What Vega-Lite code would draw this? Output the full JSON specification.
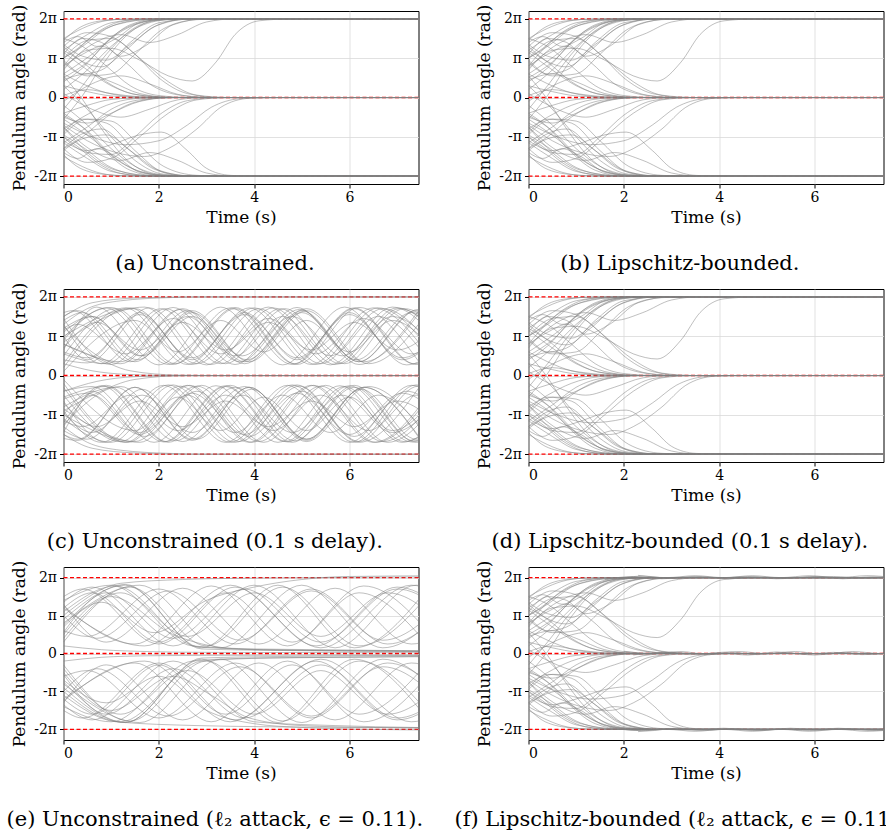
{
"$schema": "https://vega.github.io/schema/vega-lite/v6.json",
"padding": {"left": 5.5, "top": 3, "right": 0, "bottom": 0},
"config": {
 "font": "DejaVu Serif",
 "view": {"stroke": "#000000", "strokeWidth": 1},
 "axis": {"grid": true, "gridColor": "#d9d9d9", "gridWidth": 0.8, "domain": false, "ticks": true, "tickColor": "#000000", "tickSize": 4, "tickWidth": 1, "labelFont": "DejaVu Serif", "labelFontSize": 14, "labelColor": "#000000", "labelPadding": 2, "titleFont": "DejaVu Serif", "titleFontSize": 17, "titleFontWeight": "normal", "titleColor": "#000000", "titlePadding": 5},
 "axisY": {"titlePadding": 5, "labelPadding": 3},
 "title": {"font": "DejaVu Serif", "fontSize": 21, "fontWeight": "normal", "color": "#000000", "orient": "bottom", "anchor": "middle", "frame": "bounds", "offset": 28}
},
"datasets": {
 "refs": [{"y": -2}, {"y": 0}, {"y": 2}],
 "conv": [
{"s":1,"t":0,"y":1.45},{"s":1,"t":0.3,"y":1.75},{"s":1,"t":0.8,"y":1.95},{"s":1,"t":1.5,"y":2},{"s":1,"t":8,"y":2},
{"s":2,"t":0,"y":1.2},{"s":2,"t":0.5,"y":1.6},{"s":2,"t":1,"y":1.9},{"s":2,"t":1.8,"y":2},{"s":2,"t":8,"y":2},
{"s":3,"t":0,"y":1},{"s":3,"t":0.4,"y":1.3},{"s":3,"t":0.9,"y":1.75},{"s":3,"t":1.6,"y":1.97},{"s":3,"t":2.4,"y":2},{"s":3,"t":8,"y":2},
{"s":4,"t":0,"y":0.8},{"s":4,"t":0.5,"y":1.45},{"s":4,"t":1.1,"y":1.85},{"s":4,"t":2,"y":2},{"s":4,"t":8,"y":2},
{"s":5,"t":0,"y":0.6},{"s":5,"t":0.6,"y":1.1},{"s":5,"t":1.2,"y":1.7},{"s":5,"t":1.9,"y":1.97},{"s":5,"t":2.6,"y":2},{"s":5,"t":8,"y":2},
{"s":6,"t":0,"y":1.3},{"s":6,"t":0.35,"y":0.95},{"s":6,"t":0.8,"y":0.78},{"s":6,"t":1.3,"y":1.2},{"s":6,"t":1.9,"y":1.8},{"s":6,"t":2.6,"y":2},{"s":6,"t":8,"y":2},
{"s":7,"t":0,"y":0.9},{"s":7,"t":0.4,"y":0.6},{"s":7,"t":0.8,"y":0.7},{"s":7,"t":1.4,"y":1.4},{"s":7,"t":2,"y":1.9},{"s":7,"t":2.8,"y":2},{"s":7,"t":8,"y":2},
{"s":8,"t":0,"y":0.5},{"s":8,"t":0.5,"y":0.9},{"s":8,"t":1,"y":1.5},{"s":8,"t":1.5,"y":1.85},{"s":8,"t":2.2,"y":2},{"s":8,"t":8,"y":2},
{"s":9,"t":0,"y":1.1},{"s":9,"t":0.4,"y":1.5},{"s":9,"t":0.8,"y":1.4},{"s":9,"t":1.2,"y":1.05},{"s":9,"t":1.7,"y":1.3},{"s":9,"t":2.3,"y":1.85},{"s":9,"t":3,"y":2},{"s":9,"t":8,"y":2},
{"s":10,"t":0,"y":0.7},{"s":10,"t":0.5,"y":1.2},{"s":10,"t":1,"y":1.25},{"s":10,"t":1.6,"y":0.95},{"s":10,"t":2.2,"y":0.55},{"s":10,"t":2.7,"y":0.42},{"s":10,"t":3.2,"y":0.9},{"s":10,"t":3.6,"y":1.6},{"s":10,"t":4.1,"y":1.95},{"s":10,"t":4.8,"y":2},{"s":10,"t":8,"y":2},
{"s":11,"t":0,"y":-0.3},{"s":11,"t":0.4,"y":0.3},{"s":11,"t":0.9,"y":1.1},{"s":11,"t":1.4,"y":1.7},{"s":11,"t":2,"y":1.97},{"s":11,"t":2.6,"y":2},{"s":11,"t":8,"y":2},
{"s":12,"t":0,"y":0.2},{"s":12,"t":0.5,"y":0.7},{"s":12,"t":1,"y":1.3},{"s":12,"t":1.5,"y":1.75},{"s":12,"t":2.2,"y":1.98},{"s":12,"t":2.8,"y":2},{"s":12,"t":8,"y":2},
{"s":13,"t":0,"y":1.4},{"s":13,"t":0.3,"y":1.55},{"s":13,"t":0.7,"y":1.3},{"s":13,"t":1.1,"y":1.5},{"s":13,"t":1.6,"y":1.9},{"s":13,"t":2.2,"y":2},{"s":13,"t":8,"y":2},
{"s":14,"t":0,"y":1},{"s":14,"t":0.3,"y":1.25},{"s":14,"t":0.7,"y":1.65},{"s":14,"t":1.2,"y":1.93},{"s":14,"t":1.8,"y":2},{"s":14,"t":8,"y":2},
{"s":15,"t":0,"y":1.2},{"s":15,"t":0.4,"y":0.9},{"s":15,"t":0.9,"y":0.4},{"s":15,"t":1.5,"y":0.08},{"s":15,"t":2.3,"y":0},{"s":15,"t":8,"y":0},
{"s":16,"t":0,"y":0.8},{"s":16,"t":0.4,"y":1.1},{"s":16,"t":0.8,"y":1.3},{"s":16,"t":1.3,"y":0.9},{"s":16,"t":1.8,"y":0.35},{"s":16,"t":2.5,"y":0.05},{"s":16,"t":3.2,"y":0},{"s":16,"t":8,"y":0},
{"s":17,"t":0,"y":0.3},{"s":17,"t":0.5,"y":0.15},{"s":17,"t":1,"y":0.04},{"s":17,"t":1.8,"y":0},{"s":17,"t":8,"y":0},
{"s":18,"t":0,"y":-0.4},{"s":18,"t":0.5,"y":-0.2},{"s":18,"t":1,"y":-0.05},{"s":18,"t":1.8,"y":0},{"s":18,"t":8,"y":0},
{"s":19,"t":0,"y":1},{"s":19,"t":0.5,"y":1.45},{"s":19,"t":1,"y":1.5},{"s":19,"t":1.5,"y":1.1},{"s":19,"t":2,"y":0.5},{"s":19,"t":2.6,"y":0.1},{"s":19,"t":3.3,"y":0},{"s":19,"t":8,"y":0},
{"s":20,"t":0,"y":-1},{"s":20,"t":0.5,"y":-1.4},{"s":20,"t":1,"y":-1.45},{"s":20,"t":1.5,"y":-1},{"s":20,"t":2,"y":-0.45},{"s":20,"t":2.6,"y":-0.08},{"s":20,"t":3.3,"y":0},{"s":20,"t":8,"y":0},
{"s":21,"t":0,"y":-0.8},{"s":21,"t":0.4,"y":-0.5},{"s":21,"t":0.9,"y":-0.2},{"s":21,"t":1.5,"y":-0.03},{"s":21,"t":2.2,"y":0},{"s":21,"t":8,"y":0},
{"s":22,"t":0,"y":0.6},{"s":22,"t":0.4,"y":0.35},{"s":22,"t":0.9,"y":0.12},{"s":22,"t":1.6,"y":0.01},{"s":22,"t":2.3,"y":0},{"s":22,"t":8,"y":0},
{"s":23,"t":0,"y":1.5},{"s":23,"t":0.4,"y":1.3},{"s":23,"t":0.9,"y":0.8},{"s":23,"t":1.4,"y":0.3},{"s":23,"t":2,"y":0.05},{"s":23,"t":2.7,"y":0},{"s":23,"t":8,"y":0},
{"s":24,"t":0,"y":-1.3},{"s":24,"t":0.4,"y":-1},{"s":24,"t":0.9,"y":-0.5},{"s":24,"t":1.5,"y":-0.12},{"s":24,"t":2.2,"y":0},{"s":24,"t":8,"y":0},
{"s":25,"t":0,"y":-0.7},{"s":25,"t":0.5,"y":-1.1},{"s":25,"t":1.1,"y":-1.4},{"s":25,"t":1.7,"y":-1.5},{"s":25,"t":2.2,"y":-1.3},{"s":25,"t":2.8,"y":-0.8},{"s":25,"t":3.3,"y":-0.25},{"s":25,"t":3.9,"y":-0.02},{"s":25,"t":4.5,"y":0},{"s":25,"t":8,"y":0},
{"s":26,"t":0,"y":0.1},{"s":26,"t":0.6,"y":-0.3},{"s":26,"t":1.2,"y":-0.5},{"s":26,"t":1.8,"y":-0.3},{"s":26,"t":2.4,"y":-0.06},{"s":26,"t":3,"y":0},{"s":26,"t":8,"y":0},
{"s":27,"t":0,"y":-0.1},{"s":27,"t":0.6,"y":0.35},{"s":27,"t":1.2,"y":0.55},{"s":27,"t":1.8,"y":0.35},{"s":27,"t":2.4,"y":0.08},{"s":27,"t":3,"y":0},{"s":27,"t":8,"y":0},
{"s":28,"t":0,"y":-1.45},{"s":28,"t":0.35,"y":-1.8},{"s":28,"t":0.9,"y":-1.96},{"s":28,"t":1.6,"y":-2},{"s":28,"t":8,"y":-2},
{"s":29,"t":0,"y":-1.15},{"s":29,"t":0.5,"y":-1.55},{"s":29,"t":1,"y":-1.88},{"s":29,"t":1.8,"y":-2},{"s":29,"t":8,"y":-2},
{"s":30,"t":0,"y":-0.95},{"s":30,"t":0.45,"y":-1.3},{"s":30,"t":1,"y":-1.78},{"s":30,"t":1.7,"y":-1.98},{"s":30,"t":2.4,"y":-2},{"s":30,"t":8,"y":-2},
{"s":31,"t":0,"y":-0.75},{"s":31,"t":0.5,"y":-1.4},{"s":31,"t":1.1,"y":-1.85},{"s":31,"t":2,"y":-2},{"s":31,"t":8,"y":-2},
{"s":32,"t":0,"y":-0.55},{"s":32,"t":0.6,"y":-1.05},{"s":32,"t":1.2,"y":-1.65},{"s":32,"t":1.9,"y":-1.96},{"s":32,"t":2.6,"y":-2},{"s":32,"t":8,"y":-2},
{"s":33,"t":0,"y":-1.3},{"s":33,"t":0.35,"y":-0.95},{"s":33,"t":0.8,"y":-0.8},{"s":33,"t":1.3,"y":-1.25},{"s":33,"t":1.9,"y":-1.82},{"s":33,"t":2.6,"y":-2},{"s":33,"t":8,"y":-2},
{"s":34,"t":0,"y":-0.9},{"s":34,"t":0.4,"y":-0.55},{"s":34,"t":0.9,"y":-0.65},{"s":34,"t":1.5,"y":-1.35},{"s":34,"t":2.1,"y":-1.9},{"s":34,"t":2.8,"y":-2},{"s":34,"t":8,"y":-2},
{"s":35,"t":0,"y":-0.45},{"s":35,"t":0.5,"y":-0.85},{"s":35,"t":1,"y":-1.45},{"s":35,"t":1.6,"y":-1.88},{"s":35,"t":2.3,"y":-2},{"s":35,"t":8,"y":-2},
{"s":36,"t":0,"y":-1.1},{"s":36,"t":0.5,"y":-1.35},{"s":36,"t":1,"y":-1.2},{"s":36,"t":1.6,"y":-0.95},{"s":36,"t":2.05,"y":-0.88},{"s":36,"t":2.6,"y":-1.35},{"s":36,"t":3,"y":-1.8},{"s":36,"t":3.5,"y":-1.98},{"s":36,"t":4,"y":-2},{"s":36,"t":8,"y":-2},
{"s":37,"t":0,"y":0.3},{"s":37,"t":0.5,"y":-0.3},{"s":37,"t":1,"y":-1},{"s":37,"t":1.5,"y":-1.6},{"s":37,"t":2.1,"y":-1.95},{"s":37,"t":2.8,"y":-2},{"s":37,"t":8,"y":-2},
{"s":38,"t":0,"y":-0.2},{"s":38,"t":0.5,"y":-0.7},{"s":38,"t":1,"y":-1.3},{"s":38,"t":1.5,"y":-1.75},{"s":38,"t":2.2,"y":-1.98},{"s":38,"t":2.8,"y":-2},{"s":38,"t":8,"y":-2},
{"s":39,"t":0,"y":-1.4},{"s":39,"t":0.3,"y":-1.55},{"s":39,"t":0.7,"y":-1.3},{"s":39,"t":1.1,"y":-1.5},{"s":39,"t":1.6,"y":-1.9},{"s":39,"t":2.2,"y":-2},{"s":39,"t":8,"y":-2},
{"s":40,"t":0,"y":-1},{"s":40,"t":0.3,"y":-1.25},{"s":40,"t":0.7,"y":-1.65},{"s":40,"t":1.2,"y":-1.93},{"s":40,"t":1.8,"y":-2},{"s":40,"t":8,"y":-2},
{"s":41,"t":0,"y":1.35},{"s":41,"t":0.4,"y":1.05},{"s":41,"t":0.9,"y":0.95},{"s":41,"t":1.4,"y":1.35},{"s":41,"t":2,"y":1.85},{"s":41,"t":2.7,"y":2},{"s":41,"t":8,"y":2},
{"s":42,"t":0,"y":0.4},{"s":42,"t":0.4,"y":0.75},{"s":42,"t":0.9,"y":1.4},{"s":42,"t":1.4,"y":1.85},{"s":42,"t":2,"y":2},{"s":42,"t":8,"y":2},
{"s":43,"t":0,"y":-0.55},{"s":43,"t":0.4,"y":0.05},{"s":43,"t":0.8,"y":0.8},{"s":43,"t":1.3,"y":1.55},{"s":43,"t":1.9,"y":1.95},{"s":43,"t":2.5,"y":2},{"s":43,"t":8,"y":2},
{"s":44,"t":0,"y":1.15},{"s":44,"t":0.5,"y":0.7},{"s":44,"t":1,"y":0.3},{"s":44,"t":1.6,"y":0.06},{"s":44,"t":2.4,"y":0},{"s":44,"t":8,"y":0},
{"s":45,"t":0,"y":0.45},{"s":45,"t":0.5,"y":0.6},{"s":45,"t":1,"y":0.4},{"s":45,"t":1.6,"y":0.1},{"s":45,"t":2.3,"y":0},{"s":45,"t":8,"y":0},
{"s":46,"t":0,"y":-0.5},{"s":46,"t":0.5,"y":-0.65},{"s":46,"t":1,"y":-0.4},{"s":46,"t":1.6,"y":-0.1},{"s":46,"t":2.3,"y":0},{"s":46,"t":8,"y":0},
{"s":47,"t":0,"y":-1.15},{"s":47,"t":0.5,"y":-0.75},{"s":47,"t":1,"y":-0.3},{"s":47,"t":1.6,"y":-0.06},{"s":47,"t":2.4,"y":0},{"s":47,"t":8,"y":0},
{"s":48,"t":0,"y":1.3},{"s":48,"t":0.5,"y":1.65},{"s":48,"t":1,"y":1.55},{"s":48,"t":1.6,"y":1},{"s":48,"t":2.2,"y":0.4},{"s":48,"t":2.8,"y":0.06},{"s":48,"t":3.5,"y":0},{"s":48,"t":8,"y":0},
{"s":49,"t":0,"y":-1.3},{"s":49,"t":0.5,"y":-1.65},{"s":49,"t":1,"y":-1.55},{"s":49,"t":1.6,"y":-1},{"s":49,"t":2.2,"y":-0.4},{"s":49,"t":2.8,"y":-0.06},{"s":49,"t":3.5,"y":0},{"s":49,"t":8,"y":0},
{"s":50,"t":0,"y":-1.35},{"s":50,"t":0.4,"y":-1.05},{"s":50,"t":0.9,"y":-0.95},{"s":50,"t":1.4,"y":-1.35},{"s":50,"t":2,"y":-1.85},{"s":50,"t":2.7,"y":-2},{"s":50,"t":8,"y":-2},
{"s":51,"t":0,"y":-0.4},{"s":51,"t":0.4,"y":-0.75},{"s":51,"t":0.9,"y":-1.4},{"s":51,"t":1.4,"y":-1.85},{"s":51,"t":2,"y":-2},{"s":51,"t":8,"y":-2},
{"s":52,"t":0,"y":0.55},{"s":52,"t":0.4,"y":-0.05},{"s":52,"t":0.8,"y":-0.8},{"s":52,"t":1.3,"y":-1.55},{"s":52,"t":1.9,"y":-1.95},{"s":52,"t":2.5,"y":-2},{"s":52,"t":8,"y":-2},
{"s":53,"t":0,"y":0.95},{"s":53,"t":0.5,"y":0.55},{"s":53,"t":1,"y":0.6},{"s":53,"t":1.5,"y":1.1},{"s":53,"t":2.1,"y":1.75},{"s":53,"t":2.8,"y":1.98},{"s":53,"t":3.4,"y":2},{"s":53,"t":8,"y":2},
{"s":54,"t":0,"y":-0.95},{"s":54,"t":0.5,"y":-0.55},{"s":54,"t":1,"y":-0.6},{"s":54,"t":1.5,"y":-1.1},{"s":54,"t":2.1,"y":-1.75},{"s":54,"t":2.8,"y":-1.98},{"s":54,"t":3.4,"y":-2},{"s":54,"t":8,"y":-2},
{"s":55,"t":0,"y":0.75},{"s":55,"t":0.6,"y":1.35},{"s":55,"t":1.2,"y":1.6},{"s":55,"t":1.8,"y":1.4},{"s":55,"t":2.4,"y":1.6},{"s":55,"t":3,"y":1.92},{"s":55,"t":3.6,"y":2},{"s":55,"t":8,"y":2},
{"s":56,"t":0,"y":-0.75},{"s":56,"t":0.6,"y":-1.35},{"s":56,"t":1.2,"y":-1.6},{"s":56,"t":1.8,"y":-1.4},{"s":56,"t":2.4,"y":-1.6},{"s":56,"t":3,"y":-1.92},{"s":56,"t":3.6,"y":-2},{"s":56,"t":8,"y":-2},
{"s":57,"t":0,"y":0.05},{"s":57,"t":0.5,"y":0.2},{"s":57,"t":1,"y":0.1},{"s":57,"t":1.6,"y":0.02},{"s":57,"t":2.2,"y":0},{"s":57,"t":8,"y":0},
{"s":58,"t":0,"y":1.5},{"s":58,"t":0.3,"y":1.7},{"s":58,"t":0.7,"y":1.9},{"s":58,"t":1.2,"y":1.99},{"s":58,"t":1.8,"y":2},{"s":58,"t":8,"y":2},
{"s":59,"t":0,"y":-1.5},{"s":59,"t":0.3,"y":-1.7},{"s":59,"t":0.7,"y":-1.9},{"s":59,"t":1.2,"y":-1.99},{"s":59,"t":1.8,"y":-2},{"s":59,"t":8,"y":-2},
{"s":60,"t":0,"y":-0.65},{"s":60,"t":0.6,"y":-1},{"s":60,"t":1.3,"y":-1.2},{"s":60,"t":2,"y":-1.1},{"s":60,"t":2.6,"y":-0.7},{"s":60,"t":3.1,"y":-0.25},{"s":60,"t":3.7,"y":-0.03},{"s":60,"t":4.3,"y":0},{"s":60,"t":8,"y":0}
 ],
 "oscc": [
{"s":1,"t":0,"y":0.9},{"s":1,"t":0.9,"y":1.72},{"s":1,"t":2.2,"y":0.28},{"s":1,"t":3.5,"y":1.72},{"s":1,"t":4.8,"y":0.28},{"s":1,"t":6.1,"y":1.72},{"s":1,"t":7.4,"y":0.28},{"s":1,"t":8.7,"y":1.72},
{"s":2,"t":0,"y":1.2},{"s":2,"t":0.6,"y":1.5},{"s":2,"t":1.6,"y":0.5},{"s":2,"t":2.6,"y":1.5},{"s":2,"t":3.6,"y":0.5},{"s":2,"t":4.6,"y":1.5},{"s":2,"t":5.6,"y":0.5},{"s":2,"t":6.6,"y":1.5},{"s":2,"t":7.6,"y":0.5},
{"s":3,"t":0,"y":0.5},{"s":3,"t":1.1,"y":1.7},{"s":3,"t":2.35,"y":0.3},{"s":3,"t":3.6,"y":1.7},{"s":3,"t":4.85,"y":0.3},{"s":3,"t":6.1,"y":1.7},{"s":3,"t":7.35,"y":0.3},{"s":3,"t":8.6,"y":1.7},
{"s":4,"t":0,"y":1.4},{"s":4,"t":0.4,"y":1.6},{"s":4,"t":1.55,"y":0.4},{"s":4,"t":2.7,"y":1.6},{"s":4,"t":3.85,"y":0.4},{"s":4,"t":5,"y":1.6},{"s":4,"t":6.15,"y":0.4},{"s":4,"t":7.3,"y":1.6},{"s":4,"t":8.45,"y":0.4},
{"s":5,"t":0,"y":0.2},{"s":5,"t":1.4,"y":1.72},{"s":5,"t":2.7,"y":0.28},{"s":5,"t":4,"y":1.72},{"s":5,"t":5.3,"y":0.28},{"s":5,"t":6.6,"y":1.72},{"s":5,"t":7.9,"y":0.28},
{"s":6,"t":0,"y":1},{"s":6,"t":0.5,"y":0.4},{"s":6,"t":1.6,"y":1.6},{"s":6,"t":2.7,"y":0.4},{"s":6,"t":3.8,"y":1.6},{"s":6,"t":4.9,"y":0.4},{"s":6,"t":6,"y":1.6},{"s":6,"t":7.1,"y":0.4},{"s":6,"t":8.2,"y":1.6},
{"s":7,"t":0,"y":0.7},{"s":7,"t":0.7,"y":1.35},{"s":7,"t":1.6,"y":0.65},{"s":7,"t":2.5,"y":1.35},{"s":7,"t":3.4,"y":0.65},{"s":7,"t":4.3,"y":1.35},{"s":7,"t":5.2,"y":0.65},{"s":7,"t":6.1,"y":1.35},{"s":7,"t":7,"y":0.65},{"s":7,"t":7.9,"y":1.35},
{"s":8,"t":0,"y":1.3},{"s":8,"t":0.8,"y":0.3},{"s":8,"t":2.05,"y":1.7},{"s":8,"t":3.3,"y":0.3},{"s":8,"t":4.55,"y":1.7},{"s":8,"t":5.8,"y":0.3},{"s":8,"t":7.05,"y":1.7},{"s":8,"t":8.3,"y":0.3},
{"s":9,"t":0,"y":0.8},{"s":9,"t":1.2,"y":0.35},{"s":9,"t":2.45,"y":1.68},{"s":9,"t":3.7,"y":0.35},{"s":9,"t":4.95,"y":1.68},{"s":9,"t":6.2,"y":0.35},{"s":9,"t":7.45,"y":1.68},{"s":9,"t":8.7,"y":0.35},
{"s":10,"t":0,"y":1.1},{"s":10,"t":1,"y":1.73},{"s":10,"t":2.3,"y":0.28},{"s":10,"t":3.6,"y":1.73},{"s":10,"t":4.9,"y":0.28},{"s":10,"t":6.2,"y":1.73},{"s":10,"t":7.5,"y":0.28},
{"s":11,"t":0,"y":0.6},{"s":11,"t":0.5,"y":0.45},{"s":11,"t":1.6,"y":1.55},{"s":11,"t":2.7,"y":0.45},{"s":11,"t":3.8,"y":1.55},{"s":11,"t":4.9,"y":0.45},{"s":11,"t":6,"y":1.55},{"s":11,"t":7.1,"y":0.45},{"s":11,"t":8.2,"y":1.55},
{"s":12,"t":0,"y":1.5},{"s":12,"t":0.3,"y":1.65},{"s":12,"t":1.5,"y":0.35},{"s":12,"t":2.7,"y":1.65},{"s":12,"t":3.9,"y":0.35},{"s":12,"t":5.1,"y":1.65},{"s":12,"t":6.3,"y":0.35},{"s":12,"t":7.5,"y":1.65},
{"s":13,"t":0,"y":0.3},{"s":13,"t":1.3,"y":1.72},{"s":13,"t":2.6,"y":0.28},{"s":13,"t":3.9,"y":1.72},{"s":13,"t":5.2,"y":0.28},{"s":13,"t":6.5,"y":1.72},{"s":13,"t":7.8,"y":0.28},
{"s":14,"t":0,"y":1.25},{"s":14,"t":1.2,"y":0.3},{"s":14,"t":2.5,"y":1.7},{"s":14,"t":3.8,"y":0.3},{"s":14,"t":5.1,"y":1.7},{"s":14,"t":6.4,"y":0.3},{"s":14,"t":7.7,"y":1.7},
{"s":15,"t":0,"y":0.95},{"s":15,"t":0.6,"y":1.5},{"s":15,"t":1.65,"y":0.5},{"s":15,"t":2.7,"y":1.5},{"s":15,"t":3.75,"y":0.5},{"s":15,"t":4.8,"y":1.5},{"s":15,"t":5.85,"y":0.5},{"s":15,"t":6.9,"y":1.5},{"s":15,"t":7.95,"y":0.5},
{"s":16,"t":0,"y":0.1},{"s":16,"t":1.5,"y":1.4},{"s":16,"t":2.4,"y":0.6},{"s":16,"t":3.3,"y":1.4},{"s":16,"t":4.2,"y":0.6},{"s":16,"t":5.1,"y":1.4},{"s":16,"t":6,"y":0.6},{"s":16,"t":6.9,"y":1.4},{"s":16,"t":7.8,"y":0.6},
{"s":17,"t":0,"y":1},{"s":17,"t":1.5,"y":1.7},{"s":17,"t":2.8,"y":0.3},{"s":17,"t":4.1,"y":1.7},{"s":17,"t":5.4,"y":0.3},{"s":17,"t":6.7,"y":1.7},{"s":17,"t":8,"y":0.3},
{"s":18,"t":0,"y":0.55},{"s":18,"t":0.9,"y":0.3},{"s":18,"t":2.15,"y":1.7},{"s":18,"t":3.4,"y":0.3},{"s":18,"t":4.65,"y":1.7},{"s":18,"t":5.9,"y":0.3},{"s":18,"t":7.15,"y":1.7},{"s":18,"t":8.4,"y":0.3},
{"s":19,"t":0,"y":-0.9},{"s":19,"t":0.8,"y":-1.7},{"s":19,"t":2.1,"y":-0.25},{"s":19,"t":3.4,"y":-1.7},{"s":19,"t":4.7,"y":-0.25},{"s":19,"t":6,"y":-1.7},{"s":19,"t":7.3,"y":-0.25},{"s":19,"t":8.6,"y":-1.7},
{"s":20,"t":0,"y":-1.2},{"s":20,"t":0.6,"y":-0.5},{"s":20,"t":1.6,"y":-1.45},{"s":20,"t":2.6,"y":-0.5},{"s":20,"t":3.6,"y":-1.45},{"s":20,"t":4.6,"y":-0.5},{"s":20,"t":5.6,"y":-1.45},{"s":20,"t":6.6,"y":-0.5},{"s":20,"t":7.6,"y":-1.45},
{"s":21,"t":0,"y":-0.5},{"s":21,"t":1.2,"y":-1.68},{"s":21,"t":2.45,"y":-0.27},{"s":21,"t":3.7,"y":-1.68},{"s":21,"t":4.95,"y":-0.27},{"s":21,"t":6.2,"y":-1.68},{"s":21,"t":7.45,"y":-0.27},{"s":21,"t":8.7,"y":-1.68},
{"s":22,"t":0,"y":-1.4},{"s":22,"t":0.5,"y":-1.62},{"s":22,"t":1.65,"y":-0.35},{"s":22,"t":2.8,"y":-1.62},{"s":22,"t":3.95,"y":-0.35},{"s":22,"t":5.1,"y":-1.62},{"s":22,"t":6.25,"y":-0.35},{"s":22,"t":7.4,"y":-1.62},{"s":22,"t":8.55,"y":-0.35},
{"s":23,"t":0,"y":-0.2},{"s":23,"t":1.35,"y":-1.7},{"s":23,"t":2.65,"y":-0.25},{"s":23,"t":3.95,"y":-1.7},{"s":23,"t":5.25,"y":-0.25},{"s":23,"t":6.55,"y":-1.7},{"s":23,"t":7.85,"y":-0.25},
{"s":24,"t":0,"y":-1},{"s":24,"t":0.6,"y":-0.4},{"s":24,"t":1.7,"y":-1.55},{"s":24,"t":2.8,"y":-0.4},{"s":24,"t":3.9,"y":-1.55},{"s":24,"t":5,"y":-0.4},{"s":24,"t":6.1,"y":-1.55},{"s":24,"t":7.2,"y":-0.4},{"s":24,"t":8.3,"y":-1.55},
{"s":25,"t":0,"y":-0.7},{"s":25,"t":0.7,"y":-1.3},{"s":25,"t":1.6,"y":-0.65},{"s":25,"t":2.5,"y":-1.3},{"s":25,"t":3.4,"y":-0.65},{"s":25,"t":4.3,"y":-1.3},{"s":25,"t":5.2,"y":-0.65},{"s":25,"t":6.1,"y":-1.3},{"s":25,"t":7,"y":-0.65},{"s":25,"t":7.9,"y":-1.3},
{"s":26,"t":0,"y":-1.3},{"s":26,"t":0.9,"y":-0.25},{"s":26,"t":2.2,"y":-1.7},{"s":26,"t":3.5,"y":-0.25},{"s":26,"t":4.8,"y":-1.7},{"s":26,"t":6.1,"y":-0.25},{"s":26,"t":7.4,"y":-1.7},{"s":26,"t":8.7,"y":-0.25},
{"s":27,"t":0,"y":-0.8},{"s":27,"t":1.1,"y":-0.3},{"s":27,"t":2.35,"y":-1.66},{"s":27,"t":3.6,"y":-0.3},{"s":27,"t":4.85,"y":-1.66},{"s":27,"t":6.1,"y":-0.3},{"s":27,"t":7.35,"y":-1.66},{"s":27,"t":8.6,"y":-0.3},
{"s":28,"t":0,"y":-1.1},{"s":28,"t":1,"y":-1.7},{"s":28,"t":2.3,"y":-0.24},{"s":28,"t":3.6,"y":-1.7},{"s":28,"t":4.9,"y":-0.24},{"s":28,"t":6.2,"y":-1.7},{"s":28,"t":7.5,"y":-0.24},
{"s":29,"t":0,"y":-0.6},{"s":29,"t":0.5,"y":-0.45},{"s":29,"t":1.6,"y":-1.5},{"s":29,"t":2.7,"y":-0.45},{"s":29,"t":3.8,"y":-1.5},{"s":29,"t":4.9,"y":-0.45},{"s":29,"t":6,"y":-1.5},{"s":29,"t":7.1,"y":-0.45},{"s":29,"t":8.2,"y":-1.5},
{"s":30,"t":0,"y":-1.5},{"s":30,"t":0.3,"y":-1.62},{"s":30,"t":1.5,"y":-0.3},{"s":30,"t":2.7,"y":-1.62},{"s":30,"t":3.9,"y":-0.3},{"s":30,"t":5.1,"y":-1.62},{"s":30,"t":6.3,"y":-0.3},{"s":30,"t":7.5,"y":-1.62},
{"s":31,"t":0,"y":-0.3},{"s":31,"t":1.3,"y":-1.7},{"s":31,"t":2.6,"y":-0.25},{"s":31,"t":3.9,"y":-1.7},{"s":31,"t":5.2,"y":-0.25},{"s":31,"t":6.5,"y":-1.7},{"s":31,"t":7.8,"y":-0.25},
{"s":32,"t":0,"y":-1.25},{"s":32,"t":1.2,"y":-0.28},{"s":32,"t":2.5,"y":-1.68},{"s":32,"t":3.8,"y":-0.28},{"s":32,"t":5.1,"y":-1.68},{"s":32,"t":6.4,"y":-0.28},{"s":32,"t":7.7,"y":-1.68},
{"s":33,"t":0,"y":-0.95},{"s":33,"t":0.6,"y":-1.45},{"s":33,"t":1.65,"y":-0.5},{"s":33,"t":2.7,"y":-1.45},{"s":33,"t":3.75,"y":-0.5},{"s":33,"t":4.8,"y":-1.45},{"s":33,"t":5.85,"y":-0.5},{"s":33,"t":6.9,"y":-1.45},{"s":33,"t":7.95,"y":-0.5},
{"s":34,"t":0,"y":-0.1},{"s":34,"t":1.5,"y":-1.4},{"s":34,"t":2.4,"y":-0.55},{"s":34,"t":3.3,"y":-1.4},{"s":34,"t":4.2,"y":-0.55},{"s":34,"t":5.1,"y":-1.4},{"s":34,"t":6,"y":-0.55},{"s":34,"t":6.9,"y":-1.4},{"s":34,"t":7.8,"y":-0.55},
{"s":35,"t":0,"y":-1},{"s":35,"t":1.5,"y":-1.68},{"s":35,"t":2.8,"y":-0.27},{"s":35,"t":4.1,"y":-1.68},{"s":35,"t":5.4,"y":-0.27},{"s":35,"t":6.7,"y":-1.68},{"s":35,"t":8,"y":-0.27},
{"s":36,"t":0,"y":-0.55},{"s":36,"t":0.9,"y":-0.28},{"s":36,"t":2.15,"y":-1.68},{"s":36,"t":3.4,"y":-0.28},{"s":36,"t":4.65,"y":-1.68},{"s":36,"t":5.9,"y":-0.28},{"s":36,"t":7.15,"y":-1.68},{"s":36,"t":8.4,"y":-0.28},
{"s":37,"t":0,"y":0.3},{"s":37,"t":0.6,"y":0.12},{"s":37,"t":1.3,"y":0.03},{"s":37,"t":2.2,"y":0},{"s":37,"t":8,"y":0},
{"s":38,"t":0,"y":-0.4},{"s":38,"t":0.7,"y":-0.15},{"s":38,"t":1.5,"y":-0.03},{"s":38,"t":2.5,"y":0},{"s":38,"t":8,"y":0},
{"s":39,"t":0,"y":0.8},{"s":39,"t":0.6,"y":0.5},{"s":39,"t":1.4,"y":0.12},{"s":39,"t":2.4,"y":0.01},{"s":39,"t":3.2,"y":0},{"s":39,"t":8,"y":0},
{"s":40,"t":0,"y":-0.9},{"s":40,"t":0.7,"y":-0.45},{"s":40,"t":1.5,"y":-0.1},{"s":40,"t":2.6,"y":0},{"s":40,"t":8,"y":0},
{"s":41,"t":0,"y":1.3},{"s":41,"t":0.5,"y":1.7},{"s":41,"t":1.2,"y":1.9},{"s":41,"t":2.2,"y":1.98},{"s":41,"t":3,"y":2},{"s":41,"t":8,"y":2},
{"s":42,"t":0,"y":1.5},{"s":42,"t":0.6,"y":1.85},{"s":42,"t":1.5,"y":1.97},{"s":42,"t":2.5,"y":2},{"s":42,"t":8,"y":2},
{"s":43,"t":0,"y":-1.3},{"s":43,"t":0.5,"y":-1.7},{"s":43,"t":1.2,"y":-1.9},{"s":43,"t":2.2,"y":-1.98},{"s":43,"t":3,"y":-2},{"s":43,"t":8,"y":-2},
{"s":44,"t":0,"y":-1.5},{"s":44,"t":0.6,"y":-1.85},{"s":44,"t":1.5,"y":-1.97},{"s":44,"t":2.5,"y":-2},{"s":44,"t":8,"y":-2},
{"s":45,"t":0,"y":0.65},{"s":45,"t":0.7,"y":1.74},{"s":45,"t":2,"y":0.27},{"s":45,"t":3.3,"y":1.74},{"s":45,"t":4.6,"y":0.27},{"s":45,"t":5.9,"y":1.74},{"s":45,"t":7.2,"y":0.27},{"s":45,"t":8.5,"y":1.74},
{"s":46,"t":0,"y":1.45},{"s":46,"t":1,"y":0.28},{"s":46,"t":2.3,"y":1.73},{"s":46,"t":3.6,"y":0.28},{"s":46,"t":4.9,"y":1.73},{"s":46,"t":6.2,"y":0.28},{"s":46,"t":7.5,"y":1.73},
{"s":47,"t":0,"y":0.85},{"s":47,"t":1.7,"y":1.74},{"s":47,"t":3,"y":0.27},{"s":47,"t":4.3,"y":1.74},{"s":47,"t":5.6,"y":0.27},{"s":47,"t":6.9,"y":1.74},{"s":47,"t":8.2,"y":0.27},
{"s":48,"t":0,"y":1.15},{"s":48,"t":0.3,"y":1.3},{"s":48,"t":1.3,"y":0.55},{"s":48,"t":2.3,"y":1.45},{"s":48,"t":3.3,"y":0.55},{"s":48,"t":4.3,"y":1.45},{"s":48,"t":5.3,"y":0.55},{"s":48,"t":6.3,"y":1.45},{"s":48,"t":7.3,"y":0.55},{"s":48,"t":8.3,"y":1.45},
{"s":49,"t":0,"y":0.4},{"s":49,"t":0.5,"y":0.32},{"s":49,"t":1.8,"y":1.72},{"s":49,"t":3.1,"y":0.28},{"s":49,"t":4.4,"y":1.72},{"s":49,"t":5.7,"y":0.28},{"s":49,"t":7,"y":1.72},{"s":49,"t":8.3,"y":0.28},
{"s":50,"t":0,"y":1.6},{"s":50,"t":0.2,"y":1.65},{"s":50,"t":1.4,"y":0.35},{"s":50,"t":2.6,"y":1.65},{"s":50,"t":3.8,"y":0.35},{"s":50,"t":5,"y":1.65},{"s":50,"t":6.2,"y":0.35},{"s":50,"t":7.4,"y":1.65},{"s":50,"t":8.6,"y":0.35},
{"s":51,"t":0,"y":-0.65},{"s":51,"t":0.9,"y":-1.7},{"s":51,"t":2.2,"y":-0.24},{"s":51,"t":3.5,"y":-1.7},{"s":51,"t":4.8,"y":-0.24},{"s":51,"t":6.1,"y":-1.7},{"s":51,"t":7.4,"y":-0.24},{"s":51,"t":8.7,"y":-1.7},
{"s":52,"t":0,"y":-1.45},{"s":52,"t":0.8,"y":-0.26},{"s":52,"t":2.1,"y":-1.69},{"s":52,"t":3.4,"y":-0.26},{"s":52,"t":4.7,"y":-1.69},{"s":52,"t":6,"y":-0.26},{"s":52,"t":7.3,"y":-1.69},{"s":52,"t":8.6,"y":-0.26},
{"s":53,"t":0,"y":-0.85},{"s":53,"t":1.6,"y":-1.7},{"s":53,"t":2.9,"y":-0.25},{"s":53,"t":4.2,"y":-1.7},{"s":53,"t":5.5,"y":-0.25},{"s":53,"t":6.8,"y":-1.7},{"s":53,"t":8.1,"y":-0.25},
{"s":54,"t":0,"y":-1.15},{"s":54,"t":0.4,"y":-1.3},{"s":54,"t":1.4,"y":-0.5},{"s":54,"t":2.4,"y":-1.4},{"s":54,"t":3.4,"y":-0.5},{"s":54,"t":4.4,"y":-1.4},{"s":54,"t":5.4,"y":-0.5},{"s":54,"t":6.4,"y":-1.4},{"s":54,"t":7.4,"y":-0.5},{"s":54,"t":8.4,"y":-1.4},
{"s":55,"t":0,"y":-0.4},{"s":55,"t":0.6,"y":-0.28},{"s":55,"t":1.9,"y":-1.7},{"s":55,"t":3.2,"y":-0.26},{"s":55,"t":4.5,"y":-1.7},{"s":55,"t":5.8,"y":-0.26},{"s":55,"t":7.1,"y":-1.7},{"s":55,"t":8.4,"y":-0.26},
{"s":56,"t":0,"y":-1.6},{"s":56,"t":0.3,"y":-1.65},{"s":56,"t":1.5,"y":-0.3},{"s":56,"t":2.7,"y":-1.65},{"s":56,"t":3.9,"y":-0.3},{"s":56,"t":5.1,"y":-1.65},{"s":56,"t":6.3,"y":-0.3},{"s":56,"t":7.5,"y":-1.65}
 ],
 "osce": [
{"s":1,"t":0,"y":0.9},{"s":1,"t":1.3,"y":1.8},{"s":1,"t":2.9,"y":0.15},{"s":1,"t":4.5,"y":1.8},{"s":1,"t":6.1,"y":0.15},{"s":1,"t":7.7,"y":1.8},
{"s":2,"t":0,"y":1.2},{"s":2,"t":0.6,"y":1.6},{"s":2,"t":2,"y":0.3},{"s":2,"t":3.4,"y":1.6},{"s":2,"t":4.8,"y":0.3},{"s":2,"t":6.2,"y":1.6},{"s":2,"t":7.6,"y":0.3},
{"s":3,"t":0,"y":0.5},{"s":3,"t":1,"y":1.5},{"s":3,"t":2.3,"y":0.5},{"s":3,"t":3.1,"y":0.2},{"s":3,"t":4,"y":0.1},{"s":3,"t":5.5,"y":0.08},{"s":3,"t":8,"y":0.07},
{"s":4,"t":0,"y":1.4},{"s":4,"t":1,"y":1.8},{"s":4,"t":2.7,"y":0.2},{"s":4,"t":4,"y":0.12},{"s":4,"t":5.5,"y":0.1},{"s":4,"t":8,"y":0.06},
{"s":5,"t":0,"y":0.3},{"s":5,"t":1.4,"y":1.75},{"s":5,"t":3,"y":0.2},{"s":5,"t":4.6,"y":1.75},{"s":5,"t":6.2,"y":0.2},{"s":5,"t":7.8,"y":1.75},
{"s":6,"t":0,"y":1},{"s":6,"t":0.7,"y":0.4},{"s":6,"t":2.2,"y":1.65},{"s":6,"t":3.7,"y":0.35},{"s":6,"t":5.2,"y":1.65},{"s":6,"t":6.7,"y":0.35},{"s":6,"t":8.2,"y":1.65},
{"s":7,"t":0,"y":0.7},{"s":7,"t":0.8,"y":1.35},{"s":7,"t":1.9,"y":0.55},{"s":7,"t":3,"y":1.4},{"s":7,"t":4,"y":1.75},{"s":7,"t":5,"y":1.95},{"s":7,"t":6,"y":2.03},{"s":7,"t":8,"y":2.05},
{"s":8,"t":0,"y":1.3},{"s":8,"t":0.9,"y":0.3},{"s":8,"t":2.5,"y":1.72},{"s":8,"t":4.1,"y":0.25},{"s":8,"t":5.7,"y":1.72},{"s":8,"t":7.3,"y":0.25},{"s":8,"t":8.9,"y":1.72},
{"s":9,"t":0,"y":0.8},{"s":9,"t":1.6,"y":1.8},{"s":9,"t":3.3,"y":0.15},{"s":9,"t":5,"y":1.8},{"s":9,"t":6.7,"y":0.15},{"s":9,"t":8.4,"y":1.8},
{"s":10,"t":0,"y":1.1},{"s":10,"t":1.1,"y":1.78},{"s":10,"t":2.8,"y":0.18},{"s":10,"t":4.2,"y":0.1},{"s":10,"t":6,"y":0.07},{"s":10,"t":8,"y":0.05},
{"s":11,"t":0,"y":0.6},{"s":11,"t":0.5,"y":0.45},{"s":11,"t":2,"y":1.7},{"s":11,"t":3.6,"y":0.25},{"s":11,"t":5.2,"y":1.7},{"s":11,"t":6.8,"y":0.25},{"s":11,"t":8.4,"y":1.7},
{"s":12,"t":0,"y":1.5},{"s":12,"t":0.4,"y":1.7},{"s":12,"t":2,"y":0.25},{"s":12,"t":3.6,"y":1.75},{"s":12,"t":5.3,"y":0.2},{"s":12,"t":7,"y":1.75},{"s":12,"t":8.7,"y":0.2},
{"s":13,"t":0,"y":0.4},{"s":13,"t":1.2,"y":1.6},{"s":13,"t":2.6,"y":0.45},{"s":13,"t":4,"y":1.6},{"s":13,"t":5.4,"y":0.45},{"s":13,"t":6.8,"y":1.6},{"s":13,"t":8.2,"y":0.45},
{"s":14,"t":0,"y":1.25},{"s":14,"t":1.5,"y":0.25},{"s":14,"t":3.1,"y":1.78},{"s":14,"t":4.7,"y":0.2},{"s":14,"t":6.3,"y":1.78},{"s":14,"t":7.9,"y":0.2},
{"s":15,"t":0,"y":1},{"s":15,"t":1.2,"y":1.85},{"s":15,"t":2.5,"y":1.95},{"s":15,"t":3.5,"y":1.98},{"s":15,"t":5,"y":2},{"s":15,"t":8,"y":2.02},
{"s":16,"t":0,"y":0.2},{"s":16,"t":0.8,"y":0.1},{"s":16,"t":1.8,"y":0.05},{"s":16,"t":3,"y":0.03},{"s":16,"t":8,"y":0.02},
{"s":17,"t":0,"y":-0.9},{"s":17,"t":1.3,"y":-1.82},{"s":17,"t":2.9,"y":-0.15},{"s":17,"t":4.5,"y":-1.82},{"s":17,"t":6.1,"y":-0.15},{"s":17,"t":7.7,"y":-1.82},
{"s":18,"t":0,"y":-1.2},{"s":18,"t":0.6,"y":-1.6},{"s":18,"t":2,"y":-0.3},{"s":18,"t":3.4,"y":-1.6},{"s":18,"t":4.8,"y":-0.3},{"s":18,"t":6.2,"y":-1.6},{"s":18,"t":7.6,"y":-0.3},
{"s":19,"t":0,"y":-0.5},{"s":19,"t":1,"y":-1.5},{"s":19,"t":2.3,"y":-0.6},{"s":19,"t":3.1,"y":-1.1},{"s":19,"t":3.9,"y":-1.7},{"s":19,"t":5,"y":-1.9},{"s":19,"t":6.5,"y":-1.95},{"s":19,"t":8,"y":-1.97},
{"s":20,"t":0,"y":-1.4},{"s":20,"t":1,"y":-1.8},{"s":20,"t":2.7,"y":-0.2},{"s":20,"t":4,"y":-0.12},{"s":20,"t":5.5,"y":-0.1},{"s":20,"t":8,"y":-0.07},
{"s":21,"t":0,"y":-0.3},{"s":21,"t":1.4,"y":-1.78},{"s":21,"t":3,"y":-0.2},{"s":21,"t":4.6,"y":-1.78},{"s":21,"t":6.2,"y":-0.2},{"s":21,"t":7.8,"y":-1.78},
{"s":22,"t":0,"y":-1},{"s":22,"t":0.7,"y":-0.4},{"s":22,"t":2.2,"y":-1.65},{"s":22,"t":3.7,"y":-0.35},{"s":22,"t":5.2,"y":-1.65},{"s":22,"t":6.7,"y":-0.35},{"s":22,"t":8.2,"y":-1.65},
{"s":23,"t":0,"y":-0.7},{"s":23,"t":0.9,"y":-1.3},{"s":23,"t":2,"y":-0.6},{"s":23,"t":3,"y":-1.5},{"s":23,"t":4,"y":-1.85},{"s":23,"t":5,"y":-1.95},{"s":23,"t":6.5,"y":-2},{"s":23,"t":8,"y":-2.02},
{"s":24,"t":0,"y":-1.3},{"s":24,"t":0.9,"y":-0.3},{"s":24,"t":2.5,"y":-1.75},{"s":24,"t":4.1,"y":-0.25},{"s":24,"t":5.7,"y":-1.75},{"s":24,"t":7.3,"y":-0.25},{"s":24,"t":8.9,"y":-1.75},
{"s":25,"t":0,"y":-0.8},{"s":25,"t":1.6,"y":-1.82},{"s":25,"t":3.3,"y":-0.15},{"s":25,"t":5,"y":-1.82},{"s":25,"t":6.7,"y":-0.15},{"s":25,"t":8.4,"y":-1.82},
{"s":26,"t":0,"y":-1.1},{"s":26,"t":1.1,"y":-1.8},{"s":26,"t":2.8,"y":-1.9},{"s":26,"t":4.2,"y":-1.93},{"s":26,"t":6,"y":-1.95},{"s":26,"t":8,"y":-1.96},
{"s":27,"t":0,"y":-0.6},{"s":27,"t":0.5,"y":-0.45},{"s":27,"t":2,"y":-1.7},{"s":27,"t":3.6,"y":-0.25},{"s":27,"t":5.2,"y":-1.7},{"s":27,"t":6.8,"y":-0.25},{"s":27,"t":8.4,"y":-1.7},
{"s":28,"t":0,"y":-1.5},{"s":28,"t":0.4,"y":-1.7},{"s":28,"t":2,"y":-0.25},{"s":28,"t":3.6,"y":-1.75},{"s":28,"t":5.3,"y":-0.2},{"s":28,"t":7,"y":-1.75},{"s":28,"t":8.7,"y":-0.2},
{"s":29,"t":0,"y":-0.4},{"s":29,"t":1.2,"y":-1.6},{"s":29,"t":2.6,"y":-0.45},{"s":29,"t":4,"y":-1.6},{"s":29,"t":5.4,"y":-0.45},{"s":29,"t":6.8,"y":-1.6},{"s":29,"t":8.2,"y":-0.45},
{"s":30,"t":0,"y":-1.25},{"s":30,"t":1.5,"y":-0.25},{"s":30,"t":3.1,"y":-1.8},{"s":30,"t":4.7,"y":-0.2},{"s":30,"t":6.3,"y":-1.8},{"s":30,"t":7.9,"y":-0.2},
{"s":31,"t":0,"y":-0.2},{"s":31,"t":0.8,"y":-0.1},{"s":31,"t":1.8,"y":-0.06},{"s":31,"t":3,"y":-0.05},{"s":31,"t":8,"y":-0.04},
{"s":32,"t":0,"y":-1},{"s":32,"t":1.2,"y":-1.8},{"s":32,"t":2.9,"y":-0.2},{"s":32,"t":4.3,"y":-0.12},{"s":32,"t":6,"y":-0.1},{"s":32,"t":8,"y":-0.08},
{"s":33,"t":0,"y":0.75},{"s":33,"t":1.3,"y":1.82},{"s":33,"t":2.9,"y":0.12},{"s":33,"t":4.5,"y":0.08},{"s":33,"t":8,"y":0.05},
{"s":34,"t":0,"y":1.2},{"s":34,"t":1.7,"y":0.2},{"s":34,"t":3.5,"y":1.8},{"s":34,"t":5.4,"y":0.15},{"s":34,"t":7.3,"y":1.8},{"s":34,"t":9,"y":0.15},
{"s":35,"t":0,"y":0.55},{"s":35,"t":0.9,"y":1.6},{"s":35,"t":2.3,"y":0.4},{"s":35,"t":3.8,"y":1.7},{"s":35,"t":5.4,"y":0.3},{"s":35,"t":7,"y":1.7},{"s":35,"t":8.6,"y":0.3},
{"s":36,"t":0,"y":1.35},{"s":36,"t":0.6,"y":1.75},{"s":36,"t":2.3,"y":0.2},{"s":36,"t":4,"y":1.8},{"s":36,"t":5.7,"y":0.15},{"s":36,"t":7.4,"y":1.8},{"s":36,"t":9,"y":0.15},
{"s":37,"t":0,"y":-0.75},{"s":37,"t":1.3,"y":-1.82},{"s":37,"t":2.9,"y":-0.12},{"s":37,"t":4.5,"y":-0.08},{"s":37,"t":8,"y":-0.05},
{"s":38,"t":0,"y":-1.2},{"s":38,"t":1.7,"y":-0.2},{"s":38,"t":3.5,"y":-1.8},{"s":38,"t":5.4,"y":-0.15},{"s":38,"t":7.3,"y":-1.8},{"s":38,"t":9,"y":-0.15},
{"s":39,"t":0,"y":-0.55},{"s":39,"t":0.9,"y":-1.6},{"s":39,"t":2.3,"y":-0.4},{"s":39,"t":3.8,"y":-1.7},{"s":39,"t":5.4,"y":-0.3},{"s":39,"t":7,"y":-1.7},{"s":39,"t":8.6,"y":-0.3},
{"s":40,"t":0,"y":-1.35},{"s":40,"t":0.6,"y":-1.75},{"s":40,"t":2.3,"y":-0.2},{"s":40,"t":4,"y":-1.8},{"s":40,"t":5.7,"y":-1.9},{"s":40,"t":7.4,"y":-1.95},{"s":40,"t":9,"y":-1.97}
 ],
 "fwob": [
{"s":1,"t":2,"y":2},{"s":1,"t":2.4,"y":2.04},{"s":1,"t":3,"y":1.98},{"s":1,"t":3.6,"y":2.03},{"s":1,"t":4.2,"y":1.97},{"s":1,"t":4.8,"y":2.02},{"s":1,"t":5.4,"y":1.98},{"s":1,"t":6,"y":2.03},{"s":1,"t":6.6,"y":1.97},{"s":1,"t":7.2,"y":2.02},{"s":1,"t":8,"y":1.99},
{"s":2,"t":1.6,"y":1.95},{"s":2,"t":2.2,"y":2.03},{"s":2,"t":2.8,"y":1.97},{"s":2,"t":3.4,"y":2.02},{"s":2,"t":4,"y":1.99},{"s":2,"t":4.6,"y":2.03},{"s":2,"t":5.2,"y":1.97},{"s":2,"t":5.8,"y":2.01},{"s":2,"t":6.4,"y":2.03},{"s":2,"t":7,"y":1.98},{"s":2,"t":7.6,"y":2.02},
{"s":3,"t":1.8,"y":0.04},{"s":3,"t":2.4,"y":-0.03},{"s":3,"t":3,"y":0.03},{"s":3,"t":3.6,"y":-0.02},{"s":3,"t":4.2,"y":0.04},{"s":3,"t":4.8,"y":-0.03},{"s":3,"t":5.4,"y":0.02},{"s":3,"t":6,"y":-0.04},{"s":3,"t":6.6,"y":0.03},{"s":3,"t":7.2,"y":-0.02},{"s":3,"t":8,"y":0.02},
{"s":4,"t":2.2,"y":-0.04},{"s":4,"t":2.8,"y":0.03},{"s":4,"t":3.4,"y":-0.03},{"s":4,"t":4,"y":0.02},{"s":4,"t":4.6,"y":-0.04},{"s":4,"t":5.2,"y":0.04},{"s":4,"t":5.8,"y":-0.02},{"s":4,"t":6.4,"y":0.03},{"s":4,"t":7,"y":-0.03},{"s":4,"t":7.6,"y":0.03},
{"s":5,"t":2,"y":-2},{"s":5,"t":2.5,"y":-2.04},{"s":5,"t":3.1,"y":-1.97},{"s":5,"t":3.7,"y":-2.03},{"s":5,"t":4.3,"y":-1.98},{"s":5,"t":4.9,"y":-2.03},{"s":5,"t":5.5,"y":-1.97},{"s":5,"t":6.1,"y":-2.02},{"s":5,"t":6.7,"y":-1.98},{"s":5,"t":7.3,"y":-2.03},{"s":5,"t":8,"y":-1.98},
{"s":6,"t":1.7,"y":-1.95},{"s":6,"t":2.3,"y":-2.03},{"s":6,"t":2.9,"y":-1.98},{"s":6,"t":3.5,"y":-2.02},{"s":6,"t":4.1,"y":-1.97},{"s":6,"t":4.7,"y":-2.03},{"s":6,"t":5.3,"y":-1.99},{"s":6,"t":5.9,"y":-2.03},{"s":6,"t":6.5,"y":-1.97},{"s":6,"t":7.1,"y":-2.02},{"s":6,"t":7.7,"y":-1.98},
{"s":7,"t":2.3,"y":2.06},{"s":7,"t":2.9,"y":2},{"s":7,"t":3.5,"y":2.05},{"s":7,"t":4.1,"y":2},{"s":7,"t":4.7,"y":2.05},{"s":7,"t":5.3,"y":2},{"s":7,"t":5.9,"y":2.05},{"s":7,"t":6.5,"y":2},{"s":7,"t":7.1,"y":2.05},{"s":7,"t":7.7,"y":2},
{"s":8,"t":2,"y":0.06},{"s":8,"t":2.6,"y":0},{"s":8,"t":3.2,"y":0.05},{"s":8,"t":3.8,"y":-0.03},{"s":8,"t":4.4,"y":0.05},{"s":8,"t":5,"y":0},{"s":8,"t":5.6,"y":0.05},{"s":8,"t":6.2,"y":-0.02},{"s":8,"t":6.8,"y":0.05},{"s":8,"t":7.4,"y":0},{"s":8,"t":8,"y":0.04},
{"s":9,"t":2.3,"y":-2.06},{"s":9,"t":2.9,"y":-2},{"s":9,"t":3.5,"y":-2.05},{"s":9,"t":4.1,"y":-2},{"s":9,"t":4.7,"y":-2.05},{"s":9,"t":5.3,"y":-2},{"s":9,"t":5.9,"y":-2.05},{"s":9,"t":6.5,"y":-2},{"s":9,"t":7.1,"y":-2.05},{"s":9,"t":7.7,"y":-2}
 ]
},
"columns": 2,
"spacing": {"row": 105, "column": 110},
"bounds": "flush",
"concat": [
 {"width": 355, "height": 173, "title": "(a) Unconstrained.",
  "layer": [
   {"data": {"name": "refs"}, "mark": {"type": "rule", "color": "#ff0000", "strokeDash": [4, 2.5], "strokeWidth": 1.3},
    "encoding": {"y": {"field": "y", "type": "quantitative", "scale": {"domain": [-2.2, 2.2], "nice": false, "zero": false}, "axis": {"values": [-2, -1, 0, 1, 2], "labelExpr": "datum.value == 2 ? '2π' : datum.value == 1 ? 'π' : datum.value == 0 ? '0' : datum.value == -1 ? '-π' : '-2π'", "title": "Pendulum angle (rad)"}}}},
   {"data": {"name": "conv"}, "mark": {"type": "line", "interpolate": "monotone", "clip": true, "color": "#808080", "opacity": 0.5, "strokeWidth": 1},
    "encoding": {"x": {"field": "t", "type": "quantitative", "scale": {"domain": [0, 7.45], "nice": false, "zero": false}, "axis": {"values": [0, 2, 4, 6], "title": "Time (s)"}}, "y": {"field": "y", "type": "quantitative"}, "detail": {"field": "s", "type": "nominal"}}}
  ]},
 {"width": 355, "height": 173, "title": "(b) Lipschitz-bounded.",
  "layer": [
   {"data": {"name": "refs"}, "mark": {"type": "rule", "color": "#ff0000", "strokeDash": [4, 2.5], "strokeWidth": 1.3},
    "encoding": {"y": {"field": "y", "type": "quantitative", "scale": {"domain": [-2.2, 2.2], "nice": false, "zero": false}, "axis": {"values": [-2, -1, 0, 1, 2], "labelExpr": "datum.value == 2 ? '2π' : datum.value == 1 ? 'π' : datum.value == 0 ? '0' : datum.value == -1 ? '-π' : '-2π'", "title": "Pendulum angle (rad)"}}}},
   {"data": {"name": "conv"}, "mark": {"type": "line", "interpolate": "monotone", "clip": true, "color": "#808080", "opacity": 0.5, "strokeWidth": 1},
    "encoding": {"x": {"field": "t", "type": "quantitative", "scale": {"domain": [0, 7.45], "nice": false, "zero": false}, "axis": {"values": [0, 2, 4, 6], "title": "Time (s)"}}, "y": {"field": "y", "type": "quantitative"}, "detail": {"field": "s", "type": "nominal"}}}
  ]},
 {"width": 355, "height": 173, "title": "(c) Unconstrained (0.1 s delay).",
  "layer": [
   {"data": {"name": "refs"}, "mark": {"type": "rule", "color": "#ff0000", "strokeDash": [4, 2.5], "strokeWidth": 1.3},
    "encoding": {"y": {"field": "y", "type": "quantitative", "scale": {"domain": [-2.2, 2.2], "nice": false, "zero": false}, "axis": {"values": [-2, -1, 0, 1, 2], "labelExpr": "datum.value == 2 ? '2π' : datum.value == 1 ? 'π' : datum.value == 0 ? '0' : datum.value == -1 ? '-π' : '-2π'", "title": "Pendulum angle (rad)"}}}},
   {"data": {"name": "oscc"}, "mark": {"type": "line", "interpolate": "monotone", "clip": true, "color": "#808080", "opacity": 0.5, "strokeWidth": 1},
    "encoding": {"x": {"field": "t", "type": "quantitative", "scale": {"domain": [0, 7.45], "nice": false, "zero": false}, "axis": {"values": [0, 2, 4, 6], "title": "Time (s)"}}, "y": {"field": "y", "type": "quantitative"}, "detail": {"field": "s", "type": "nominal"}}}
  ]},
 {"width": 355, "height": 173, "title": "(d) Lipschitz-bounded (0.1 s delay).",
  "layer": [
   {"data": {"name": "refs"}, "mark": {"type": "rule", "color": "#ff0000", "strokeDash": [4, 2.5], "strokeWidth": 1.3},
    "encoding": {"y": {"field": "y", "type": "quantitative", "scale": {"domain": [-2.2, 2.2], "nice": false, "zero": false}, "axis": {"values": [-2, -1, 0, 1, 2], "labelExpr": "datum.value == 2 ? '2π' : datum.value == 1 ? 'π' : datum.value == 0 ? '0' : datum.value == -1 ? '-π' : '-2π'", "title": "Pendulum angle (rad)"}}}},
   {"data": {"name": "conv"}, "mark": {"type": "line", "interpolate": "monotone", "clip": true, "color": "#808080", "opacity": 0.5, "strokeWidth": 1},
    "encoding": {"x": {"field": "t", "type": "quantitative", "scale": {"domain": [0, 7.45], "nice": false, "zero": false}, "axis": {"values": [0, 2, 4, 6], "title": "Time (s)"}}, "y": {"field": "y", "type": "quantitative"}, "detail": {"field": "s", "type": "nominal"}}}
  ]},
 {"width": 355, "height": 173, "title": "(e) Unconstrained (ℓ₂ attack, ϵ = 0.11).",
  "layer": [
   {"data": {"name": "refs"}, "mark": {"type": "rule", "color": "#ff0000", "strokeDash": [4, 2.5], "strokeWidth": 1.3},
    "encoding": {"y": {"field": "y", "type": "quantitative", "scale": {"domain": [-2.28, 2.28], "nice": false, "zero": false}, "axis": {"values": [-2, -1, 0, 1, 2], "labelExpr": "datum.value == 2 ? '2π' : datum.value == 1 ? 'π' : datum.value == 0 ? '0' : datum.value == -1 ? '-π' : '-2π'", "title": "Pendulum angle (rad)"}}}},
   {"data": {"name": "osce"}, "mark": {"type": "line", "interpolate": "monotone", "clip": true, "color": "#808080", "opacity": 0.5, "strokeWidth": 1},
    "encoding": {"x": {"field": "t", "type": "quantitative", "scale": {"domain": [0, 7.45], "nice": false, "zero": false}, "axis": {"values": [0, 2, 4, 6], "title": "Time (s)"}}, "y": {"field": "y", "type": "quantitative"}, "detail": {"field": "s", "type": "nominal"}}}
  ]},
 {"width": 355, "height": 173, "title": "(f) Lipschitz-bounded (ℓ₂ attack, ϵ = 0.11).",
  "layer": [
   {"data": {"name": "refs"}, "mark": {"type": "rule", "color": "#ff0000", "strokeDash": [4, 2.5], "strokeWidth": 1.3},
    "encoding": {"y": {"field": "y", "type": "quantitative", "scale": {"domain": [-2.28, 2.28], "nice": false, "zero": false}, "axis": {"values": [-2, -1, 0, 1, 2], "labelExpr": "datum.value == 2 ? '2π' : datum.value == 1 ? 'π' : datum.value == 0 ? '0' : datum.value == -1 ? '-π' : '-2π'", "title": "Pendulum angle (rad)"}}}},
   {"data": {"name": "conv"}, "mark": {"type": "line", "interpolate": "monotone", "clip": true, "color": "#808080", "opacity": 0.5, "strokeWidth": 1},
    "encoding": {"x": {"field": "t", "type": "quantitative", "scale": {"domain": [0, 7.45], "nice": false, "zero": false}, "axis": {"values": [0, 2, 4, 6], "title": "Time (s)"}}, "y": {"field": "y", "type": "quantitative"}, "detail": {"field": "s", "type": "nominal"}}},
   {"data": {"name": "fwob"}, "mark": {"type": "line", "interpolate": "monotone", "clip": true, "color": "#808080", "opacity": 0.55, "strokeWidth": 1},
    "encoding": {"x": {"field": "t", "type": "quantitative"}, "y": {"field": "y", "type": "quantitative"}, "detail": {"field": "s", "type": "nominal"}}}
  ]}
]
}
